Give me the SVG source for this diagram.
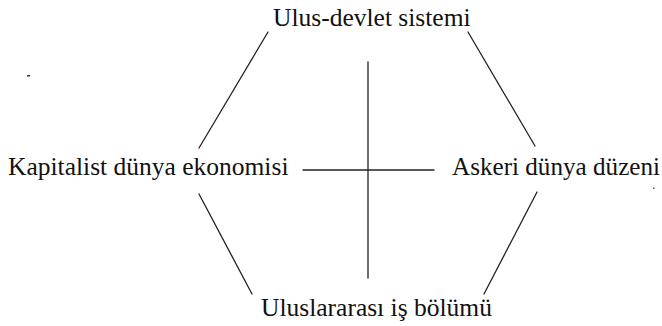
<svg xmlns="http://www.w3.org/2000/svg" width="662" height="326" viewBox="0 0 662 326">
<style>
.lbl{font-family:"Liberation Serif","Times New Roman",serif;font-size:25.5px;fill:#111}
.ln{stroke:#222;stroke-width:1.3;fill:none;stroke-linecap:round}
</style>
<rect width="662" height="326" fill="#fff"/>
<g id="connectors">
<line class="ln" x1="268" y1="32" x2="199" y2="148"/>
<line class="ln" x1="468" y1="32" x2="535" y2="146"/>
<line class="ln" x1="199" y1="194" x2="252" y2="294"/>
<line class="ln" x1="537" y1="192" x2="484" y2="294"/>
<line class="ln" x1="368" y1="62" x2="368" y2="278"/>
<line class="ln" x1="303" y1="170" x2="434" y2="170"/>
</g>
<g id="node-ulus-devlet"><text class="lbl" x="273" y="26">Ulus-devlet sistemi</text></g>
<g id="node-kapitalist"><text class="lbl" x="8" y="175">Kapitalist dünya ekonomisi</text></g>
<g id="node-askeri"><text class="lbl" x="452" y="175" textLength="208" lengthAdjust="spacingAndGlyphs">Askeri dünya düzeni</text></g>
<g id="node-uluslararasi"><text class="lbl" x="261" y="316">Uluslararası iş bölümü</text></g>
<rect x="27" y="75" width="3" height="1.5" fill="#333"/>
<rect x="653" y="187.5" width="1.5" height="1.5" fill="#555"/>
</svg>
